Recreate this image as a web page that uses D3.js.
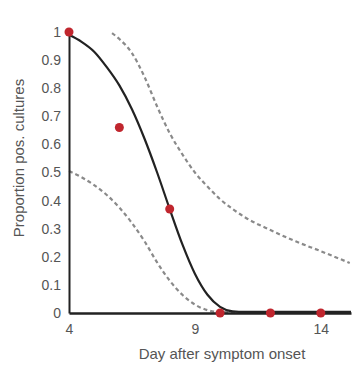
<!DOCTYPE html>
<html><head><meta charset="utf-8">
<script src="https://cdn.jsdelivr.net/npm/d3@7"></script>
<style>body{margin:0;background:#fff}svg{display:block}text{font-family:"Liberation Sans",Arial,sans-serif}</style>
</head><body><svg id="c" width="361" height="367"></svg>
<script>
const obsDays = [4, 6, 8, 10, 12, 14];
const obsProp = [1, 0.66, 0.37, 0, 0, 0];
const fitDays = [4, 4.5, 5, 5.5, 6, 6.5, 7, 7.5, 8, 8.5, 9, 9.5, 10, 10.5, 11, 15.2];
const fitProp = [0.99, 0.965, 0.93, 0.875, 0.81, 0.725, 0.62, 0.5, 0.37, 0.245, 0.14, 0.065, 0.022, 0.006, 0.004, 0.004];
const upDays = [5.71, 6, 6.5, 7, 7.5, 8, 8.5, 9, 9.5, 10, 10.5, 11, 12, 13, 14, 15.15];
const upProp = [0.996, 0.975, 0.925, 0.84, 0.735, 0.64, 0.565, 0.5, 0.45, 0.405, 0.37, 0.34, 0.295, 0.255, 0.22, 0.178];
const loDays = [4, 4.5, 5, 5.5, 6, 6.5, 7, 7.5, 8, 8.5, 9, 9.5, 10, 15.2];
const loProp = [0.505, 0.483, 0.455, 0.42, 0.375, 0.32, 0.255, 0.18, 0.115, 0.065, 0.03, 0.01, 0.003, 0.003];
const xTicks = [4, 9, 14];
const yTicks = [0, 0.1, 0.2, 0.3, 0.4, 0.5, 0.6, 0.7, 0.8, 0.9, 1];

const svg = d3.select("#c");
const x = d3.scaleLinear().domain([4, 15.2]).range([69, 351]);
const y = d3.scaleLinear().domain([0, 1]).range([313, 32]);

const line = d3.line().x(d => x(d[0])).y(d => y(d[1])).curve(d3.curveMonotoneX);
const zip = (a, b) => a.map((v, i) => [v, b[i]]);

svg.append("path").datum(zip(upDays, upProp)).attr("d", line)
  .attr("fill", "none").attr("stroke", "#8a8a8a").attr("stroke-width", 2.2).attr("stroke-dasharray", "4,3");
svg.append("path").datum(zip(loDays, loProp)).attr("d", line)
  .attr("fill", "none").attr("stroke", "#8a8a8a").attr("stroke-width", 2.2).attr("stroke-dasharray", "4,3");

const yAxis = d3.axisLeft(y).tickValues(yTicks).tickSize(0).tickPadding(8).tickFormat(d => d3.format("~g")(d));
const gy = svg.append("g").attr("transform", "translate(69,0)").call(yAxis);
gy.select(".domain").attr("stroke", "#222").attr("stroke-width", 2);
gy.selectAll("text").attr("font-size", 14).attr("fill", "#555");

const xAxis = d3.axisBottom(x).tickValues(xTicks).tickSize(0).tickPadding(11).tickFormat(d3.format("d"));
const gx = svg.append("g").attr("transform", "translate(0,313)").call(xAxis);
gx.select(".domain").attr("stroke", "#222").attr("stroke-width", 2.5);
gx.selectAll("text").attr("font-size", 14).attr("fill", "#555");

svg.append("path").datum(zip(fitDays, fitProp)).attr("d", line)
  .attr("fill", "none").attr("stroke", "#222").attr("stroke-width", 2.2);

svg.selectAll("circle").data(zip(obsDays, obsProp)).join("circle")
  .attr("cx", d => x(d[0])).attr("cy", d => y(d[1])).attr("r", 4.5).attr("fill", "#c0262e");

svg.append("text").attr("x", 222).attr("y", 359).attr("text-anchor", "middle")
  .attr("font-size", 15).attr("fill", "#555").text("Day after symptom onset");
svg.append("text").attr("transform", "translate(24,158) rotate(-90)").attr("text-anchor", "middle")
  .attr("font-size", 15).attr("fill", "#555").text("Proportion pos. cultures");
</script></body></html>
